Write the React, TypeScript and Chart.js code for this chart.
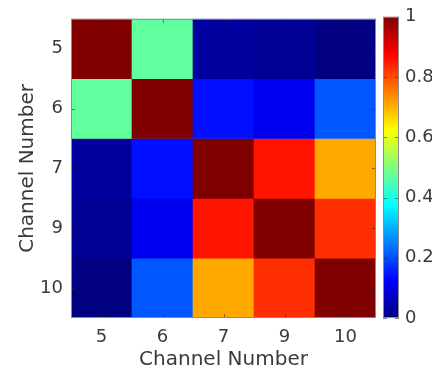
import { useEffect, useRef } from "react";
import { Chart, registerables } from "chart.js";

Chart.register(...registerables);

// Channel labels shared by both axes of the correlation matrix.
const channelLabels = ["5", "6", "7", "9", "10"];

// Correlation values, one array per row (top to bottom), columns left to right.
const row5 = [1.0, 0.47, 0.03, 0.02, 0.0];
const row6 = [0.47, 1.0, 0.14, 0.11, 0.21];
const row7 = [0.03, 0.14, 1.0, 0.855, 0.71];
const row9 = [0.02, 0.11, 0.855, 1.0, 0.83];
const row10 = [0.0, 0.21, 0.71, 0.83, 1.0];
const correlationRows = [row5, row6, row7, row9, row10];

// Colour bar range and tick values.
const colorbarMin = 0;
const colorbarMax = 1;
const colorbarTicks = [0, 0.2, 0.4, 0.6, 0.8, 1];
const colorbarTickLabels = ["0", "0.2", "0.4", "0.6", "0.8", "1"];

const FONT = "'DejaVu Sans', 'Lucida Grande', sans-serif";
const TEXT = "#3a3a3a";
const FRAME = "#8c8c8c";
const TICK_MARK = "rgba(38,38,38,0.55)";

// MATLAB-style "jet" colour map for a value in [0, 1].
function jet(v: number): string {
  const x = Math.min(1, Math.max(0, v));
  const clamp = (t: number) => Math.min(1, Math.max(0, t));
  const r = clamp(1.5 - Math.abs(4 * x - 3));
  const g = clamp(1.5 - Math.abs(4 * x - 2));
  const b = clamp(1.5 - Math.abs(4 * x - 1));
  return `rgb(${Math.round(r * 255)},${Math.round(g * 255)},${Math.round(b * 255)})`;
}

// Box around the plotting area plus short inward tick marks.
function frameWithTicks(id: string, xTicks: boolean, yBothSides: boolean) {
  return {
    id,
    afterDatasetsDraw(chart: any) {
      const { ctx, chartArea: a, scales } = chart;
      ctx.save();
      ctx.lineWidth = 1;
      ctx.strokeStyle = TICK_MARK;
      const len = 4;
      ctx.beginPath();
      if (xTicks && scales.x && scales.x.options.display !== false) {
        scales.x.ticks.forEach((_: any, i: number) => {
          const px = Math.round(scales.x.getPixelForTick(i)) + 0.5;
          ctx.moveTo(px, a.bottom);
          ctx.lineTo(px, a.bottom - len);
          ctx.moveTo(px, a.top);
          ctx.lineTo(px, a.top + len);
        });
      }
      scales.y.ticks.forEach((_: any, i: number) => {
        const py = Math.round(scales.y.getPixelForTick(i)) + 0.5;
        ctx.moveTo(a.right, py);
        ctx.lineTo(a.right - len, py);
        if (yBothSides) {
          ctx.moveTo(a.left, py);
          ctx.lineTo(a.left + len, py);
        }
      });
      ctx.stroke();
      ctx.strokeStyle = FRAME;
      ctx.strokeRect(a.left + 0.5, a.top + 0.5, a.right - a.left - 1, a.bottom - a.top - 1);
      ctx.restore();
    },
  };
}

const noGrid = { display: false, drawTicks: false, tickLength: 0 };

export default function App() {
  const heatRef = useRef<HTMLCanvasElement>(null);
  const barRef = useRef<HTMLCanvasElement>(null);

  useEffect(() => {
    if (!heatRef.current || !barRef.current) return;

    // Correlation matrix: each row is a dataset of floating bars spanning one row band.
    const heat = new Chart(heatRef.current, {
      type: "bar",
      data: {
        labels: channelLabels,
        datasets: correlationRows.map((row, i) => ({
          label: channelLabels[i],
          data: row.map(() => [i - 0.5, i + 0.5]),
          backgroundColor: row.map(jet),
          borderWidth: 0,
          barPercentage: 1,
          categoryPercentage: 1,
          grouped: false,
        })),
      } as any,
      options: {
        responsive: false,
        animation: false,
        layout: { padding: { left: 0, top: 13, right: 4, bottom: 0 } },
        plugins: { legend: { display: false }, tooltip: { enabled: false } },
        scales: {
          x: {
            type: "category",
            offset: true,
            grid: noGrid,
            border: { display: false },
            ticks: { color: TEXT, font: { family: FONT, size: 18 }, padding: 9, maxRotation: 0 },
            title: {
              display: true,
              text: "Channel Number",
              color: TEXT,
              font: { family: FONT, size: 20, lineHeight: 0.8 },
              padding: 0,
            },
            afterFit: (s: any) => {
              s.height = 50;
            },
          },
          y: {
            type: "linear",
            reverse: true,
            min: -0.5,
            max: channelLabels.length - 0.5,
            afterBuildTicks: (s: any) => {
              s.ticks = channelLabels.map((_, i) => ({ value: i }));
            },
            grid: noGrid,
            border: { display: false },
            ticks: {
              color: TEXT,
              font: { family: FONT, size: 18 },
              padding: 8,
              callback: (v: any) => channelLabels[v] ?? "",
            },
            title: {
              display: true,
              text: "Channel Number",
              color: TEXT,
              font: { family: FONT, size: 20 },
              padding: { top: 16, bottom: 0 },
            },
            afterFit: (s: any) => {
              s.width = 71;
            },
          },
        },
      } as any,
      plugins: [frameWithTicks("heatFrame", true, true)],
    });

    // Colour bar: one floating bar over the full range, filled with the jet gradient.
    const bar = new Chart(barRef.current, {
      type: "bar",
      data: {
        labels: [""],
        datasets: [
          {
            data: [[colorbarMin, colorbarMax]],
            backgroundColor: (c: any) => {
              const chart = c.chart;
              const y = chart.scales && chart.scales.y;
              if (!chart.chartArea || !y) return jet(0.5);
              const g = chart.ctx.createLinearGradient(
                0,
                y.getPixelForValue(colorbarMin),
                0,
                y.getPixelForValue(colorbarMax)
              );
              const steps = 64;
              for (let i = 0; i <= steps; i++) g.addColorStop(i / steps, jet(i / steps));
              return g;
            },
            borderWidth: 0,
            barPercentage: 1,
            categoryPercentage: 1,
          },
        ],
      } as any,
      options: {
        responsive: false,
        animation: false,
        layout: { padding: { left: 7, top: 13, right: 0, bottom: 50 } },
        plugins: { legend: { display: false }, tooltip: { enabled: false } },
        scales: {
          x: { display: false, offset: true },
          y: {
            position: "right",
            min: colorbarMin,
            max: colorbarMax,
            afterBuildTicks: (s: any) => {
              s.ticks = colorbarTicks.map((v) => ({ value: v }));
            },
            grid: noGrid,
            border: { display: false },
            ticks: {
              color: TEXT,
              font: { family: FONT, size: 18 },
              padding: 6,
              callback: (_v: any, i: number) => colorbarTickLabels[i],
            },
            afterFit: (s: any) => {
              s.width = 33;
            },
          },
        },
      } as any,
      plugins: [frameWithTicks("barFrame", false, true)],
    });

    return () => {
      heat.destroy();
      bar.destroy();
    };
  }, []);

  return (
    <div style={{ position: "absolute", left: 0, top: 0, width: 432, height: 368, background: "#fff" }}>
      <canvas ref={heatRef} width={380} height={368} style={{ position: "absolute", left: 0, top: 0 }} />
      <canvas ref={barRef} width={56} height={368} style={{ position: "absolute", left: 376, top: 0 }} />
    </div>
  );
}
